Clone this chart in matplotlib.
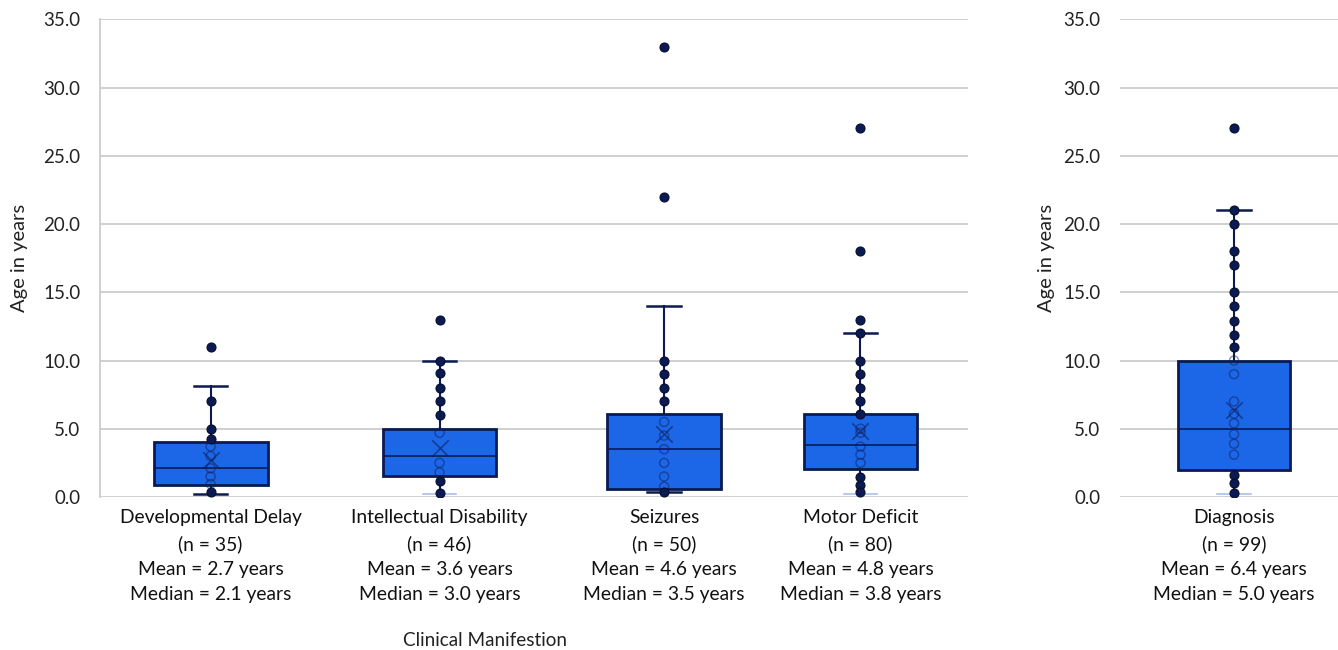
import matplotlib
matplotlib.use("Agg")
import matplotlib.pyplot as plt

plt.rcParams['font.family'] = ['Lato', 'DejaVu Sans']

# categories and labels
categories = ["Developmental Delay", "Intellectual Disability", "Seizures", "Motor Deficit"]
n_values = [35, 46, 50, 80]
means = [2.7, 3.6, 4.6, 4.8]
medians = [2.1, 3.0, 3.5, 3.8]

# box stats (q1, q3, whisker low, whisker high)
q1s = [0.86, 1.54, 0.6, 2.03]
q3s = [4.0, 5.0, 6.1, 6.08]
whislo = [0.2, 0.2, 0.35, 0.2]
whishi = [8.1, 10.0, 14.0, 12.0]

# individual ages shown as dots
dd_points = [11.0, 7.0, 5.0, 4.25, 3.7, 3.0, 2.1, 1.5, 0.95, 0.35]
id_points = [13.0, 10.0, 9.1, 8.0, 7.0, 6.0, 4.7, 2.5, 1.8, 1.2, 0.3]
sz_points = [33.0, 22.0, 10.0, 9.0, 8.0, 7.0, 5.5, 4.5, 3.5, 2.5, 1.5, 0.75, 0.4]
md_points = [27.0, 18.0, 13.0, 12.0, 10.0, 9.0, 8.0, 7.0, 6.1, 5.0, 4.7, 3.7,
             3.1, 2.5, 1.5, 0.9, 0.4]
points = [dd_points, id_points, sz_points, md_points]

# diagnosis panel
dg_label = "Diagnosis"
dg_n = 99
dg_mean = 6.4
dg_median = 5.0
dg_q1, dg_q3 = 1.98, 10.0
dg_whislo, dg_whishi = 0.2, 21.0
dg_points = [27.0, 21.0, 20.0, 18.0, 17.0, 15.0, 14.0, 12.9, 11.9, 11.0, 10.0,
             9.0, 7.0, 6.1, 5.4, 4.6, 3.9, 3.1, 1.6, 1.0, 0.3]

yticks = [0, 5, 10, 15, 20, 25, 30, 35]

box_blue = '#1c66e8'
navy = '#0b1b52'
grid_c = '#cccccc'
cap_light = ['#0b1b52', '#a9c0ea', '#0b1b52', '#a9c0ea']


def label_text(name, n, mean, median):
    return "%s\n(n = %d)\nMean = %.1f years\nMedian = %.1f years" % (name, n, mean, median)


def style_axis(ax, show_spine, ylab_x):
    ax.set_ylim(0, 35)
    ax.set_yticks(yticks)
    ax.set_yticklabels(["%.1f" % t for t in yticks], fontsize=13.5, color='#222222')
    ax.yaxis.grid(True, color=grid_c, lw=1.3)
    ax.set_axisbelow(True)
    for s in ['top', 'right', 'bottom']:
        ax.spines[s].set_visible(False)
    ax.spines['left'].set_visible(show_spine)
    ax.spines['left'].set_color(grid_c)
    ax.spines['left'].set_linewidth(1.3)
    ax.tick_params(axis='y', length=0, pad=14)
    ax.tick_params(axis='x', length=0, pad=9)
    ax.set_ylabel("Age in years", fontsize=14.5, color='#222222')
    ax.yaxis.set_label_coords(ylab_x, 0.5)


def draw_boxes(ax, stats, pos, width, capw, pts, lower_cap_colors):
    res = ax.bxp(stats, positions=pos, widths=width, capwidths=capw,
                 showfliers=False, showmeans=False, patch_artist=True,
                 boxprops=dict(facecolor=box_blue, edgecolor=navy, lw=2.0),
                 medianprops=dict(color=navy, lw=1.2),
                 whiskerprops=dict(color=navy, lw=1.5),
                 capprops=dict(color=navy, lw=1.8))
    for i, c in enumerate(lower_cap_colors):
        res['caps'][2 * i].set_color(c)
        if c != navy:
            res['caps'][2 * i].set_linewidth(1.2)
    for i, st in enumerate(stats):
        inside = [v for v in pts[i] if st['q1'] <= v <= st['q3']]
        outside = [v for v in pts[i] if v < st['q1'] or v > st['q3']]
        ax.scatter([pos[i]] * len(outside), outside, s=42, color=navy,
                   edgecolor='#050d30', lw=0.8, zorder=4)
        ax.scatter([pos[i]] * len(inside), inside, s=42, facecolor='none',
                   edgecolor=navy, lw=1.1, alpha=0.45, zorder=4)
        ax.scatter([pos[i]], [st['mean']], marker='x', s=140, color=navy,
                   lw=1.1, alpha=0.6, zorder=4)


fig = plt.figure(figsize=(13.38, 6.5), dpi=100)
ax1 = fig.add_axes([0.0747, 0.2354, 0.6487, 0.7349])
ax2 = fig.add_axes([0.8371, 0.2354, 0.1629, 0.7349])

stats = []
for i in range(len(categories)):
    stats.append(dict(med=medians[i], q1=q1s[i], q3=q3s[i], whislo=whislo[i],
                      whishi=whishi[i], mean=means[i], label=categories[i]))

pos1 = [0.51, 1.565, 2.60, 3.505]
draw_boxes(ax1, stats, pos1, 0.525, 0.155, points, cap_light)
ax1.set_xlim(0, 4)
style_axis(ax1, True, -0.083)
ax1.set_xticks(pos1)
ax1.set_xticklabels([label_text(categories[i], n_values[i], means[i], medians[i])
                     for i in range(len(categories))],
                    fontsize=13.9, linespacing=1.58, color='#111111')

dg_stats = [dict(med=dg_median, q1=dg_q1, q3=dg_q3, whislo=dg_whislo,
                 whishi=dg_whishi, mean=dg_mean, label=dg_label)]
pos2 = [0.523]
draw_boxes(ax2, dg_stats, pos2, 0.515, 0.156, [dg_points], ['#a9c0ea'])
ax2.set_xlim(0, 1)
style_axis(ax2, False, -0.30)
ax2.set_xticks(pos2)
ax2.set_xticklabels([label_text(dg_label, dg_n, dg_mean, dg_median)],
                    fontsize=13.9, linespacing=1.58, color='#111111')

fig.text(485 / 1338, 1 - 641 / 650, "Clinical Manifestion", fontsize=13.6,
         ha='center', va='center', color='#222222')

fig.savefig("out.png", dpi=100)
